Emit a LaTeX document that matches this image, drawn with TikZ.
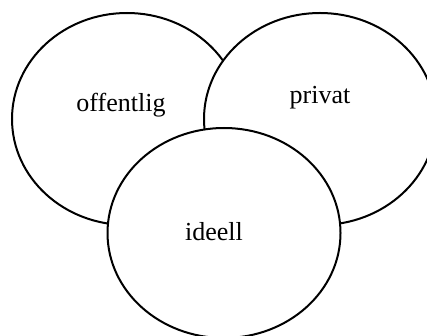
\documentclass[tikz,border=0pt]{standalone}
\usepackage{fontspec}
\setmainfont{Liberation Serif}
\usetikzlibrary{shapes.geometric}

\begin{document}
\begin{tikzpicture}[
    x=1pt, y=-1pt,
    sector/.style={ellipse, draw=black, line width=2pt, fill=white, inner sep=0pt},
    sectorname/.style={font=\fontsize{26}{30}\selectfont, inner sep=0pt},
]
\useasboundingbox (0,0) rectangle (427,336);

% the three sectors, drawn back to front
\node[sector, minimum width=230pt, minimum height=212pt] (offentlig) at (127,119) {};
\node[sector, minimum width=232pt, minimum height=212pt] (privat) at (320,119) {};
\node[sector, minimum width=233pt, minimum height=210pt] (ideell) at (224,233) {};

% sector names
\node[sectorname] (offentlig-name) at (121,105) {offentlig};
\node[sectorname] (privat-name) at (320,98) {privat};
\node[sectorname] (ideell-name) at (214,232) {ideell};

\end{tikzpicture}
\end{document}
